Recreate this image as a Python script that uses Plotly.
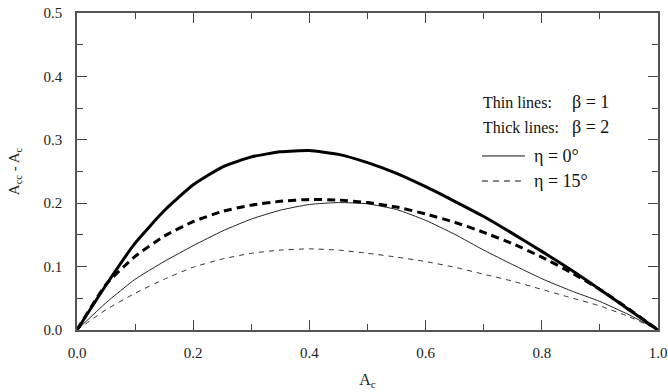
import plotly.graph_objects as go

x_vals = [0.0, 0.05, 0.1, 0.15, 0.2, 0.25, 0.3, 0.35, 0.4, 0.45, 0.5,
          0.55, 0.6, 0.65, 0.7, 0.75, 0.8, 0.85, 0.9, 0.95, 1.0]

thick_eta0 = [0.0, 0.071, 0.137, 0.188, 0.229, 0.257, 0.273, 0.281, 0.283, 0.277, 0.264,
              0.247, 0.226, 0.203, 0.179, 0.152, 0.124, 0.095, 0.064, 0.032, 0.0]
thick_eta15 = [0.0, 0.072, 0.116, 0.148, 0.171, 0.187, 0.197, 0.203, 0.206, 0.205, 0.201,
               0.194, 0.183, 0.170, 0.154, 0.136, 0.115, 0.091, 0.064, 0.033, 0.0]
thin_eta0 = [0.0, 0.043, 0.080, 0.108, 0.133, 0.156, 0.175, 0.189, 0.198, 0.201, 0.199,
             0.190, 0.173, 0.151, 0.126, 0.103, 0.081, 0.062, 0.045, 0.024, 0.0]
thin_eta15 = [0.0, 0.032, 0.058, 0.080, 0.099, 0.112, 0.121, 0.126, 0.128, 0.126, 0.121,
              0.115, 0.108, 0.099, 0.088, 0.077, 0.064, 0.051, 0.038, 0.021, 0.0]

x_ticks = [0.0, 0.2, 0.4, 0.6, 0.8, 1.0]
y_ticks = [0.0, 0.1, 0.2, 0.3, 0.4, 0.5]

FONT = "'Liberation Serif', 'Times New Roman', Times, serif"

fig = go.Figure()
series = [
    (thin_eta15, 1.0, "5px,5px", "#333"),
    (thin_eta0, 1.0, "solid", "#222"),
    (thick_eta15, 3.0, "8px,5px", "#000"),
    (thick_eta0, 3.0, "solid", "#000"),
]
for ys, w, dash, col in series:
    fig.add_trace(go.Scatter(x=x_vals, y=ys, mode="lines",
                             line=dict(color=col, width=w, dash=dash, shape="spline", smoothing=0.5),
                             showlegend=False, hoverinfo="skip"))

axis_common = dict(
    showgrid=False, zeroline=False, showline=True, linecolor="#555", linewidth=1.5,
    mirror="ticks", ticks="inside", ticklen=10, tickwidth=1.2, tickcolor="#444",
    tickfont=dict(family=FONT, size=15, color="#222"), automargin=False,
)
fig.update_xaxes(range=[0, 1.0], tickvals=x_ticks, ticktext=[f"{v:.1f}" for v in x_ticks],
                 ticklabelstandoff=8,
                 minor=dict(dtick=0.1, ticks="inside", ticklen=6, tickcolor="#444", tickwidth=1.2),
                 title=dict(text="A<sub>c</sub>", font=dict(family=FONT, size=16, color="#222"), standoff=14),
                 **axis_common)
fig.update_yaxes(range=[0, 0.5], tickvals=y_ticks, ticktext=[f"{v:.1f}" for v in y_ticks],
                 ticklabelstandoff=10,
                 minor=dict(dtick=0.05, ticks="inside", ticklen=6, tickcolor="#444", tickwidth=1.2),
                 title=dict(text="A<sub>cc</sub> - A<sub>c</sub>", font=dict(family=FONT, size=15, color="#222"), standoff=20),
                 **axis_common)

# legend-like annotations (paper coordinates of the plot area)
txt = dict(family=FONT, size=16, color="#111")
sym = dict(family=FONT, size=18, color="#111")
fig.add_annotation(x=0.695, y=0.719, xref="paper", yref="paper", xanchor="left", yanchor="middle",
                   text="Thin lines:", showarrow=False, font=txt)
fig.add_annotation(x=0.848, y=0.719, xref="paper", yref="paper", xanchor="left", yanchor="middle",
                   text="β = 1", showarrow=False, font=sym)
fig.add_annotation(x=0.695, y=0.640, xref="paper", yref="paper", xanchor="left", yanchor="middle",
                   text="Thick lines:", showarrow=False, font=txt)
fig.add_annotation(x=0.848, y=0.640, xref="paper", yref="paper", xanchor="left", yanchor="middle",
                   text="β = 2", showarrow=False, font=sym)
fig.add_annotation(x=0.783, y=0.549, xref="paper", yref="paper", xanchor="left", yanchor="middle",
                   text="η = 0°", showarrow=False, font=sym)
fig.add_annotation(x=0.783, y=0.470, xref="paper", yref="paper", xanchor="left", yanchor="middle",
                   text="η = 15°", showarrow=False, font=sym)
fig.add_shape(type="line", xref="paper", yref="paper", x0=0.697, x1=0.771, y0=0.549, y1=0.549,
              line=dict(color="#111", width=1))
fig.add_shape(type="line", xref="paper", yref="paper", x0=0.697, x1=0.771, y0=0.470, y1=0.470,
              line=dict(color="#111", width=1, dash="6px,5px"))

fig.update_layout(
    width=668, height=392,
    margin=dict(l=77, r=10, t=13, b=62),
    plot_bgcolor="white", paper_bgcolor="white",
    font=dict(family=FONT),
)
fig.write_html("out.html")
